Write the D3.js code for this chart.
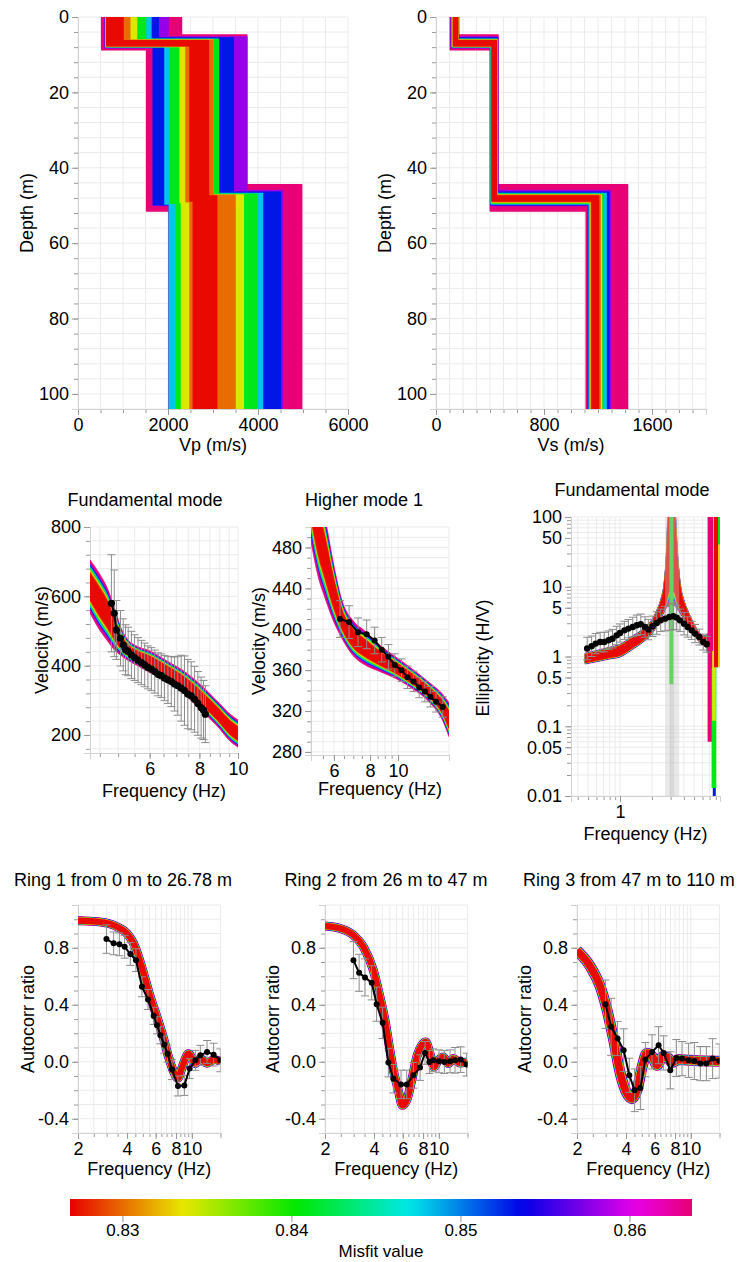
<!DOCTYPE html>
<html>
<head>
<meta charset="utf-8">
<script src="https://cdn.jsdelivr.net/npm/d3@7"></script>
<style>
  body { margin: 0; background: #fff; }
  svg text { font-family: "Liberation Sans", Arial, Helvetica, sans-serif; }
</style>
</head>
<body>
<svg id="chart" width="742" height="1262"></svg>
<script>
// ---- misfit levels, drawn from worst (pink) to best (red) ----
const misfitLevels = [0.8636, 0.858, 0.853, 0.848, 0.841, 0.834, 0.830, 0.8272];
const colorDomain = [0.8269, 0.8637];
const colorTicks = [0.83, 0.84, 0.85, 0.86];

// ---- ground profiles: envelope of the models for each misfit level ----
const vp1Min = [527, 605, 610, 615, 620, 625, 630, 640];
const vp1Max = [2300, 2000, 1780, 1620, 1500, 1300, 1150, 1000];
const vp2Min = [1526, 1674, 1674, 1933, 2040, 2270, 2400, 2490];
const vp2Max = [3750, 3750, 3450, 3120, 3120, 3000, 3000, 2900];
const vp3Min = [2030, 2030, 2030, 2030, 2193, 2300, 2489, 2563];
const vp3Max = [4970, 4540, 4500, 4100, 3970, 3674, 3489, 3081];
const vs1Min = [106, 112, 115, 118, 122, 126, 128, 130];
const vs1Max = [167, 166, 165, 164, 163, 162, 161, 160];
const vs2Min = [402, 405, 407, 409, 410, 412, 414, 415];
const vs2Max = [459, 457, 455, 453, 451, 450, 449, 447];
const vs3Min = [1113, 1125, 1130, 1135, 1140, 1145, 1150, 1155];
const vs3Max = [1419, 1290, 1279, 1260, 1240, 1225, 1215, 1204];
const h1Min = [4.8, 5.3, 5.6, 5.9, 6.0, 6.1, 6.2, 6.3];
const h1Max = [8.7, 8.2, 8.0, 7.9, 7.8, 7.8, 7.7, 7.6];
const h2Min = [44.5, 46.0, 46.5, 46.8, 47.0, 47.2, 47.3, 47.5];
const h2Max = [51.5, 50.0, 49.8, 49.6, 49.4, 49.2, 49.0, 48.8];
const maxDepth = 104;

// ---- dispersion, fundamental mode ----
const dispF  = [4.25, 4.5, 4.7, 4.9, 5.1, 5.3, 5.6, 6.0, 6.6, 7.3, 8.0, 8.9, 9.6, 10];
const dispHi = [705, 663, 623, 565, 505, 474, 455, 443, 415, 385, 348, 296, 258, 243];
const dispLo = [552, 502, 472, 445, 428, 415, 400, 380, 356, 320, 276, 224, 180, 165];
const dispObsF = [4.81, 4.89, 4.95, 5.07, 5.15, 5.22, 5.30, 5.40, 5.50, 5.61, 5.72, 5.83, 5.94, 6.06, 6.18, 6.30,
                  6.42, 6.54, 6.67, 6.80, 6.93, 7.06, 7.20, 7.34, 7.48, 7.63, 7.78, 7.93, 8.08, 8.19, 8.28];
const dispObsV = [580, 551, 503, 479, 460, 446, 441, 431, 423, 416, 409, 402, 395, 390, 383, 375,
                  371, 364, 359, 354, 347, 342, 335, 328, 318, 313, 303, 291, 279, 272, 260];
const dispErr  = [140, 125, 85, 80, 75, 72, 70, 68, 66, 65, 64, 63, 62, 62, 62, 62,
                  63, 65, 68, 72, 78, 85, 95, 100, 100, 98, 95, 92, 88, 85, 82];

// ---- dispersion, higher mode 1 ----
const hmF  = [5.0, 5.3, 5.6, 6.0, 6.4, 7.0, 7.7, 8.6, 9.8, 11.2, 12.8, 14.3, 15];
const hmHi = [580, 540, 508, 462, 428, 408, 398, 385, 373, 361, 348, 336, 328];
const hmLo = [486, 451, 430, 407, 391, 374, 365, 359, 352, 342, 329, 310, 295];
const hmObsF = [6.30, 6.77, 7.27, 7.79, 8.30, 8.78, 9.26, 9.74, 10.28, 10.78, 11.31, 11.83, 12.38, 12.93, 13.53, 14.27];
const hmObsV = [410, 407, 397, 395, 389, 380, 373, 365, 360, 353, 349, 343, 339, 334, 329, 324];
const hmErr  = [18, 16, 14, 14, 13, 12, 12, 11, 11, 11, 10, 10, 10, 10, 10, 10];

// ---- ellipticity ----
const ellF  = [0.47, 0.6, 0.8, 1.0, 1.3, 1.66, 2.0, 2.22, 2.45, 2.6, 2.75, 2.85, 3.05, 3.3, 3.45, 3.68, 4.0, 4.3, 4.9, 5.6, 6.2, 6.7, 7.0];
const ellHi = [1.12, 1.22, 1.36, 1.5, 1.95, 2.51, 3.4, 4.6, 7.0, 11, 35, 150, 300, 150, 40, 12, 6.5, 4.8, 3.1, 2.2, 2.0, 2.1, 2.3];
const ellLo = [0.78, 0.84, 0.92, 0.98, 1.25, 1.62, 2.1, 2.7, 3.6, 4.3, 5, 5.3, 5.5, 5.3, 4.8, 4.2, 3.4, 2.8, 2.1, 1.62, 1.45, 1.2, 0.9];
// near-singular branch at the high-frequency end, one block per misfit
const tailMisfit = [0.8636, 0.853, 0.841, 0.841, 0.834, 0.833, 0.8272];
const tailF0 = [6.7, 7.5, 7.3, 8.35, 7.4, 8.35, 7.7];
const tailF1 = [7.6, 8.0, 8.1, 8.77, 8.0, 8.77, 8.4];
const tailLo = [0.06, 0.01, 0.013, 40, 0.12, 0.7, 0.7];
const tailHi = [100, 0.02, 0.7, 100, 1.2, 40, 100];
const ellSpike = { f: 3.05, lo: 0.4, hi: 100, misfit: 0.840 };
const ellRange = [2.66, 3.62];
const ellRangeInner = [2.95, 3.25];
const ellObsF = [0.49, 0.54, 0.59, 0.65, 0.71, 0.78, 0.85, 0.93, 1.0, 1.1, 1.2, 1.32, 1.44, 1.57, 1.72, 1.85,
                 2.03, 2.22, 2.42, 2.66, 2.92, 3.18, 3.42, 3.68, 4.02, 4.35, 4.74, 5.1, 5.6, 6.1, 6.57];
const ellObsE = [1.30, 1.40, 1.53, 1.61, 1.61, 1.71, 1.80, 2.01, 2.17, 2.37, 2.51, 2.65, 2.80, 2.90, 2.65, 2.43,
                 2.71, 3.02, 3.30, 3.49, 3.68, 3.77, 3.61, 3.30, 2.96, 2.65, 2.37, 2.13, 1.90, 1.61, 1.50];
const ellErr  = [1.45, 1.4, 1.4, 1.38, 1.38, 1.36, 1.36, 1.35, 1.35, 1.35, 1.35, 1.38, 1.4, 1.4, 1.4, 1.4,
                 1.4, 1.45, 1.45, 1.5, 1.55, 1.55, 1.5, 1.45, 1.45, 1.4, 1.35, 1.35, 1.3, 1.3, 1.3];

// ---- autocorrelation rings ----
const ring1F = [2.0, 2.74, 3.47, 4.0, 4.39, 4.71, 5.06, 5.56, 6.11, 6.71, 7.2, 7.73, 8.22, 8.71, 9.56, 10.51, 11.28, 12.4, 13.61, 15.0];
const ring1V = [0.99, 0.981, 0.948, 0.90, 0.83, 0.737, 0.62, 0.455, 0.315, 0.163, 0.033, -0.07, -0.115, -0.04, 0.057, -0.013, 0.022, -0.01, 0.015, 0.003];
const ring1ObsF = [2.99, 3.31, 3.59, 3.87, 4.19, 4.54, 4.94, 5.38, 5.83, 6.11, 6.41, 6.78, 7.10, 7.56, 8.22, 9.0, 9.69, 10.51, 11.28, 12.4, 13.61, 14.97];
const ring1ObsV = [0.861, 0.831, 0.824, 0.807, 0.756, 0.713, 0.526, 0.437, 0.322, 0.256, 0.186, 0.12, 0.057, -0.055, -0.17, -0.166, -0.048, 0.01, 0.045, 0.069, 0.05, 0.01];
const ring1Err  = [0.1, 0.08, 0.08, 0.08, 0.08, 0.08, 0.07, 0.07, 0.06, 0.06, 0.06, 0.06, 0.06, 0.07, 0.07, 0.07, 0.07, 0.07, 0.07, 0.08, 0.08, 0.08];

const ring2F = [2.0, 2.47, 2.99, 3.44, 3.96, 4.35, 4.67, 4.97, 5.26, 5.64, 5.97, 6.35, 6.82, 7.32, 7.85, 8.31, 8.83, 9.34, 9.93, 10.66, 11.44, 12.27, 13.49, 15.0];
const ring2V = [0.953, 0.936, 0.889, 0.807, 0.643, 0.455, 0.292, 0.104, -0.06, -0.2, -0.306, -0.27, -0.13, 0.033, 0.116, 0.139, 0.057, -0.037, 0.01, 0.033, -0.013, 0.022, -0.009, 0.0];
const ring2ObsF = [2.99, 3.24, 3.52, 3.87, 4.15, 4.52, 4.90, 5.26, 5.86, 6.35, 6.98, 7.67, 8.23, 8.75, 9.25, 10.02, 10.81, 11.72, 12.57, 13.62, 14.83];
const ring2ObsV = [0.713, 0.624, 0.592, 0.554, 0.404, 0.273, -0.006, -0.119, -0.159, -0.159, -0.095, -0.041, 0.062, -0.002, 0.01, 0.003, -0.002, 0.003, 0.01, 0.015, -0.02];
const ring2Err  = [0.13, 0.13, 0.13, 0.12, 0.12, 0.11, 0.1, 0.1, 0.1, 0.1, 0.09, 0.09, 0.08, 0.08, 0.08, 0.08, 0.08, 0.08, 0.09, 0.09, 0.08];

const ring3F = [2.0, 2.41, 2.78, 3.06, 3.36, 3.69, 4.06, 4.35, 4.67, 5.02, 5.38, 5.78, 6.2, 6.7, 7.2, 7.67, 8.42, 9.93, 12.57, 15.0];
const ring3V = [0.78, 0.67, 0.526, 0.362, 0.151, -0.083, -0.224, -0.259, -0.2, -0.037, 0.06, 0.04, -0.025, 0.035, 0.03, -0.005, 0.015, 0.01, 0.005, 0.003];
const ring3ObsF = [2.99, 3.24, 3.55, 3.87, 4.19, 4.52, 4.90, 5.26, 5.78, 6.34, 6.81, 7.48, 8.15, 8.83, 9.69, 10.51, 11.44, 12.46, 13.61, 14.97];
const ring3ObsV = [0.404, 0.245, 0.163, 0.081, -0.095, -0.2, -0.185, 0.015, 0.069, 0.116, 0.062, -0.06, 0.026, 0.022, 0.01, 0.005, -0.013, -0.013, 0.022, 0.005];
const ring3Err  = [0.17, 0.2, 0.12, 0.15, 0.12, 0.15, 0.15, 0.12, 0.12, 0.13, 0.12, 0.13, 0.13, 0.12, 0.12, 0.13, 0.12, 0.12, 0.14, 0.12];

// ---- tick labels ----
const vpTicks = [0, 2000, 4000, 6000];
const vsTicks = [0, 800, 1600];
const depthTicks = [0, 20, 40, 60, 80, 100];
const dispXTicks = [6, 8, 10];
const dispYTicks = [200, 400, 600, 800];
const hmYTicks = [280, 320, 360, 400, 440, 480];
const ellXTicks = [1];
const ellYTicks = [0.01, 0.05, 0.1, 0.5, 1, 5, 10, 50, 100];
const ringXTicks = [2, 4, 6, 8, 10];
const ringYTicks = [-0.4, 0, 0.4, 0.8];

// ----------------------------------------------------------------
const svg = d3.select("#chart");
const font = '"Liberation Sans", Arial, Helvetica, sans-serif';

const hue = d3.scaleLinear().domain(colorDomain).range([0, 330]);
const misfitColor = m => d3.hsl(hue(m), 1, 0.455).formatHex();
const levelColors = misfitLevels.map(misfitColor);

// how far each misfit level spreads from the band centre (1 = outer edge)
const bandT = [1, 0.86, 0.8, 0.75, 0.69, 0.62, 0.56, 0.5];
const ringW = [1, 0.92, 0.87, 0.83, 0.79, 0.75, 0.72, 0.68];

let clipCount = 0;

function panel(p) {
  const x = p.x, y = p.y;
  const l = x.range()[0], r = x.range()[1];
  const t = Math.min(...y.range()), b = Math.max(...y.range());
  const g = svg.append("g");
  const id = "clip" + (clipCount++);
  g.append("clipPath").attr("id", id).append("rect")
    .attr("x", l).attr("y", t).attr("width", r - l).attr("height", b - t);

  // grid
  const grid = g.append("g").attr("stroke", "#ebebeb").attr("stroke-width", 1);
  grid.selectAll(null).data(p.xGrid).join("line")
    .attr("x1", d => x(d)).attr("x2", d => x(d)).attr("y1", t).attr("y2", b);
  grid.selectAll(null).data(p.yGrid).join("line")
    .attr("y1", d => y(d)).attr("y2", d => y(d)).attr("x1", l).attr("x2", r);

  // axes: minor ticks then labelled ticks
  const ax = g.append("g").attr("transform", `translate(0,${b})`);
  ax.append("g").call(d3.axisBottom(x).tickValues(p.xGrid).tickSize(4).tickFormat(""));
  ax.append("g").call(d3.axisBottom(x).tickValues(p.xTicks).tickSize(6).tickPadding(3).tickFormat(p.xFmt || (d => d)));
  const ay = g.append("g").attr("transform", `translate(${l},0)`);
  ay.append("g").call(d3.axisLeft(y).tickValues(p.yGrid).tickSize(4).tickFormat(""));
  ay.append("g").call(d3.axisLeft(y).tickValues(p.yTicks).tickSize(6).tickPadding(3).tickFormat(p.yFmt || (d => d)));
  g.selectAll(".domain").attr("stroke", "#d2d2d2");
  g.selectAll(".tick line").attr("stroke", "#9a9a9a");
  g.selectAll(".tick text").attr("fill", "#000").attr("font-size", 18).attr("font-family", font);

  // labels
  g.append("text").attr("x", (l + r) / 2).attr("y", p.xLabelY)
    .attr("text-anchor", "middle").attr("font-size", 18).text(p.xLabel);
  g.append("text").attr("transform", `translate(${p.yLabelX},${p.yLabelY || (t + b) / 2}) rotate(-90)`)
    .attr("text-anchor", "middle").attr("dy", "0.35em").attr("font-size", 18).text(p.yLabel);
  if (p.title) {
    g.append("text").attr("x", p.titleX || (l + r) / 2).attr("y", p.titleY)
      .attr("text-anchor", "middle").attr("font-size", 18).text(p.title);
  }
  return g.append("g").attr("clip-path", `url(#${id})`);
}

// ---- ground profile envelopes ----
function profile(plot, x, y, v1a, v1b, v2a, v2b, v3a, v3b) {
  const line = d3.line().x(d => x(d[0])).y(d => y(d[1]));
  misfitLevels.forEach((m, i) => {
    const pts = [
      [v1a[i], 0], [v1a[i], h1Max[i]], [v2a[i], h1Max[i]], [v2a[i], h2Max[i]],
      [v3a[i], h2Max[i]], [v3a[i], maxDepth + 2],
      [v3b[i], maxDepth + 2], [v3b[i], h2Min[i]], [v2b[i], h2Min[i]], [v2b[i], h1Min[i]],
      [v1b[i], h1Min[i]], [v1b[i], 0]
    ];
    plot.append("path").attr("d", line(pts) + "Z")
      .attr("fill", levelColors[i]).attr("stroke", levelColors[i]).attr("stroke-width", 1.5)
      .attr("stroke-linejoin", "round");
  });
}

// ---- nested colour bands between lo and hi ----
function band(plot, x, y, f, lo, hi, isLog, core) {
  const tr = isLog ? Math.log10 : (v => v);
  const inv = isLog ? (v => Math.pow(10, v)) : (v => v);
  const rows = f.map((d, i) => ({ f: d, lo: tr(lo[i]), hi: tr(hi[i]) }));
  misfitLevels.forEach((m, k) => {
    const s = 1 - (1 - bandT[k]) * core;
    const area = d3.area().curve(d3.curveMonotoneX)
      .x(d => x(d.f))
      .y0(d => { const c = (d.lo + d.hi) / 2; return y(inv(c - s * (c - d.lo))); })
      .y1(d => { const c = (d.lo + d.hi) / 2; return y(inv(c + s * (d.hi - c))); });
    plot.append("path").datum(rows).attr("d", area)
      .attr("fill", levelColors[k]).attr("stroke", levelColors[k]).attr("stroke-width", 0.8);
  });
}

function thickCurve(plot, x, y, f, v, width) {
  const rows = f.map((d, i) => [d, v[i]]);
  const line = d3.line().curve(d3.curveMonotoneX).x(d => x(d[0])).y(d => y(d[1]));
  misfitLevels.forEach((m, k) => {
    plot.append("path").datum(rows).attr("d", line).attr("fill", "none")
      .attr("stroke", levelColors[k]).attr("stroke-width", width * ringW[k])
      .attr("stroke-linecap", "butt").attr("stroke-linejoin", "round");
  });
}

function observed(plot, x, y, f, v, lo, hi, r) {
  const rows = f.map((d, i) => ({ f: d, v: v[i], lo: lo[i], hi: hi[i] }));
  const eb = plot.append("g").attr("stroke", "#8c8c8c").attr("stroke-width", 1);
  eb.selectAll(null).data(rows).join("line")
    .attr("x1", d => x(d.f)).attr("x2", d => x(d.f)).attr("y1", d => y(d.lo)).attr("y2", d => y(d.hi));
  eb.selectAll(null).data(rows.flatMap(d => [[d.f, d.lo], [d.f, d.hi]])).join("line")
    .attr("x1", d => x(d[0]) - 4).attr("x2", d => x(d[0]) + 4)
    .attr("y1", d => y(d[1])).attr("y2", d => y(d[1]));
  plot.append("path").datum(rows)
    .attr("d", d3.line().x(d => x(d.f)).y(d => y(d.v)))
    .attr("fill", "none").attr("stroke", "#000").attr("stroke-width", 2);
  plot.append("g").selectAll(null).data(rows).join("circle")
    .attr("cx", d => x(d.f)).attr("cy", d => y(d.v)).attr("r", r).attr("fill", "#000");
}

// ================= Vp =================
{
  const x = d3.scaleLinear().domain([0, 6000]).range([78, 348]);
  const y = d3.scaleLinear().domain([0, maxDepth]).range([17, 409]);
  const plot = panel({
    x, y, xTicks: vpTicks, yTicks: depthTicks,
    xGrid: d3.range(0, 6001, 500), yGrid: d3.range(0, 105, 4),
    xLabel: "Vp (m/s)", xLabelY: 451, yLabel: "Depth (m)", yLabelX: 27
  });
  profile(plot, x, y, vp1Min, vp1Max, vp2Min, vp2Max, vp3Min, vp3Max);
}

// ================= Vs =================
{
  const x = d3.scaleLinear().domain([0, 2000]).range([436, 706]);
  const y = d3.scaleLinear().domain([0, maxDepth]).range([17, 409]);
  const plot = panel({
    x, y, xTicks: vsTicks, yTicks: depthTicks,
    xGrid: d3.range(0, 2001, 100), yGrid: d3.range(0, 105, 4),
    xLabel: "Vs (m/s)", xLabelY: 451, yLabel: "Depth (m)", yLabelX: 385
  });
  profile(plot, x, y, vs1Min, vs1Max, vs2Min, vs2Max, vs3Min, vs3Max);
}

// ================= dispersion: fundamental =================
{
  const x = d3.scaleLog().domain([4.25, 10]).range([90, 238]);
  const y = d3.scaleLinear().domain([148, 800]).range([753, 527]);
  const plot = panel({
    x, y, xTicks: dispXTicks, yTicks: dispYTicks,
    xGrid: d3.range(9, 21).map(d => d / 2), yGrid: d3.range(160, 801, 40),
    xLabel: "Frequency (Hz)", xLabelY: 797, yLabel: "Velocity (m/s)", yLabelX: 42,
    title: "Fundamental mode", titleY: 506, titleX: 145
  });
  band(plot, x, y, dispF, dispLo, dispHi, false, 1);
  observed(plot, x, y, dispObsF, dispObsV,
    dispObsV.map((v, i) => v - dispErr[i]), dispObsV.map((v, i) => v + dispErr[i]), 3.6);
}

// ================= dispersion: higher mode 1 =================
{
  const x = d3.scaleLog().domain([5, 15]).range([311, 449]);
  const y = d3.scaleLinear().domain([277, 500]).range([755, 527]);
  const plot = panel({
    x, y, xTicks: dispXTicks, yTicks: hmYTicks,
    xGrid: d3.range(10, 21).map(d => d / 2).concat([15]), yGrid: d3.range(280, 501, 10),
    xLabel: "Frequency (Hz)", xLabelY: 795, yLabel: "Velocity (m/s)", yLabelX: 259,
    title: "Higher mode 1", titleY: 506, titleX: 364
  });
  band(plot, x, y, hmF, hmLo, hmHi, false, 1);
  observed(plot, x, y, hmObsF, hmObsV,
    hmObsV.map((v, i) => v - hmErr[i]), hmObsV.map((v, i) => v + hmErr[i]), 3);
}

// ================= ellipticity =================
{
  const x = d3.scaleLog().domain([0.345, 8.77]).range([571, 720]);
  const y = d3.scaleLog().domain([0.01, 100]).range([796, 517]);
  const minorX = [0.4, 0.5, 0.6, 0.7, 0.8, 0.9, 1, 2, 3, 4, 5, 6, 7, 8];
  const minorY = [0.01, 0.1, 1, 10].flatMap(d => d3.range(1, 10).map(k => +(d * k).toPrecision(3))).concat([100]);
  const plot = panel({
    x, y, xTicks: ellXTicks, yTicks: ellYTicks,
    xGrid: minorX, yGrid: minorY,
    xLabel: "Frequency (Hz)", xLabelY: 840, yLabel: "Ellipticity (H/V)", yLabelX: 483, yLabelY: 658,
    yFmt: d => String(d),
    title: "Fundamental mode", titleY: 496, titleX: 632
  });
  band(plot, x, y, ellF, ellLo, ellHi, true, 0.5);
  plot.append("g").selectAll(null).data(tailMisfit).join("rect")
    .attr("x", (d, i) => x(tailF0[i])).attr("width", (d, i) => x(tailF1[i]) - x(tailF0[i]))
    .attr("y", (d, i) => y(tailHi[i])).attr("height", (d, i) => y(tailLo[i]) - y(tailHi[i]))
    .attr("fill", d => misfitColor(d));
  plot.append("line")
    .attr("x1", x(ellSpike.f)).attr("x2", x(ellSpike.f))
    .attr("y1", y(ellSpike.lo)).attr("y2", y(ellSpike.hi))
    .attr("stroke", misfitColor(ellSpike.misfit)).attr("stroke-width", 4);
  plot.append("rect").attr("x", x(ellRange[0])).attr("width", x(ellRange[1]) - x(ellRange[0]))
    .attr("y", 517).attr("height", 279).attr("fill", "#c4c4c4").attr("opacity", 0.38);
  plot.append("rect").attr("x", x(ellRangeInner[0])).attr("width", x(ellRangeInner[1]) - x(ellRangeInner[0]))
    .attr("y", 517).attr("height", 279).attr("fill", "#b0b0b0").attr("opacity", 0.25);
  observed(plot, x, y, ellObsF, ellObsE,
    ellObsE.map((v, i) => v / ellErr[i]), ellObsE.map((v, i) => v * ellErr[i]), 3.2);
}

// ================= autocorrelation rings =================
const rings = [
  { title: "Ring 1 from 0 m to 26.78 m", l: 78, titleX: 123, yLabelX: 28, f: ring1F, v: ring1V, w: 9,
    of: ring1ObsF, ov: ring1ObsV, oe: ring1Err },
  { title: "Ring 2 from 26 m to 47 m", l: 325, titleX: 386, yLabelX: 273, f: ring2F, v: ring2V, w: 9,
    of: ring2ObsF, ov: ring2ObsV, oe: ring2Err },
  { title: "Ring 3 from 47 m to 110 m", l: 577, titleX: 629, yLabelX: 525, f: ring3F, v: ring3V, w: 11,
    of: ring3ObsF, ov: ring3ObsV, oe: ring3Err }
];
rings.forEach(rg => {
  const x = d3.scaleLog().domain([2, 15]).range([rg.l, rg.l + 142.5]);
  const y = d3.scaleLinear().domain([-0.5, 1.1]).range([1133, 905]);
  const plot = panel({
    x, y, xTicks: ringXTicks, yTicks: ringYTicks,
    xGrid: d3.range(4, 21).map(d => d / 2).concat([15]), yGrid: d3.range(-5, 12).map(d => d / 10),
    xLabel: "Frequency (Hz)", xLabelY: 1175, yLabel: "Autocorr ratio", yLabelX: rg.yLabelX,
    yFmt: d => d.toFixed(1),
    title: rg.title, titleY: 886, titleX: rg.titleX
  });
  thickCurve(plot, x, y, rg.f, rg.v, rg.w);
  observed(plot, x, y, rg.of, rg.ov,
    rg.ov.map((v, i) => v - rg.oe[i]), rg.ov.map((v, i) => v + rg.oe[i]), 3);
});

// ================= colour bar =================
{
  const x = d3.scaleLinear().domain(colorDomain).range([70, 692]);
  const grad = svg.append("defs").append("linearGradient").attr("id", "misfitGrad");
  grad.selectAll("stop").data(d3.range(0, 51)).join("stop")
    .attr("offset", d => (d * 2) + "%")
    .attr("stop-color", d => misfitColor(colorDomain[0] + (colorDomain[1] - colorDomain[0]) * d / 50));
  svg.append("rect").attr("x", 70).attr("y", 1199).attr("width", 622).attr("height", 17)
    .attr("fill", "url(#misfitGrad)");
  const ax = svg.append("g").attr("transform", "translate(0,1216)")
    .call(d3.axisBottom(x).tickValues(colorTicks).tickSize(6).tickPadding(2).tickFormat(d3.format(".2f")));
  ax.select(".domain").remove();
  ax.selectAll(".tick line").attr("stroke", "#999");
  ax.selectAll(".tick text").attr("fill", "#000").attr("font-size", 17).attr("font-family", font);
  svg.append("text").attr("x", 381).attr("y", 1257).attr("text-anchor", "middle")
    .attr("font-size", 17).text("Misfit value");
}
</script>
</body>
</html>
